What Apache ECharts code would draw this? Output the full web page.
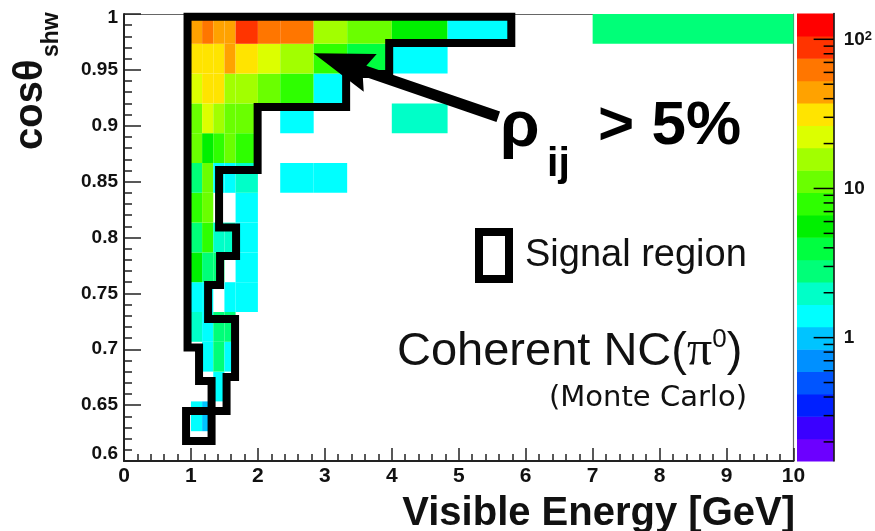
<!DOCTYPE html>
<html>
<head>
<meta charset="utf-8">
<script src="https://cdn.jsdelivr.net/npm/echarts@6/dist/echarts.min.js"></script>
<style>
  html, body { margin: 0; padding: 0; background: #fff; }
  #chart { width: 875px; height: 531px; }
</style>
</head>
<body>
<div id="chart"></div>
<script>
// ---- histogram binning --------------------------------------------------
// Visible energy bin edges in GeV (variable width)
const energyEdges = [6/6, 7/6, 8/6, 9/6, 10/6, 12/6, 14/6, 17/6, 20/6, 24/6, 29/6, 35/6, 42/6, 60/6];
// cos(theta_shw) bin edges
const cosEdges = [0.6, 0.62667, 0.65333, 0.68, 0.70667, 0.73333, 0.76, 0.78667,
                  0.81333, 0.84, 0.86667, 0.89333, 0.92, 0.94667, 0.97333, 1.0];

// ---- event counts, one row per cos bin (bottom to top), one value per energy bin
const row00 = [0,    0,    0,    0,    0,    0,    0,    0,    0,   0,   0,   0, 0];
const row01 = [1.4,  1.0,  0,    0,    0,    0,    0,    0,    0,   0,   0,   0, 0];
const row02 = [0,    0,    1.3,  0,    0,    0,    0,    0,    0,   0,   0,   0, 0];
const row03 = [0,    1.5,  2.9,  1.3,  0,    0,    0,    0,    0,   0,   0,   0, 0];
const row04 = [2.1,  1.4,  2.7,  2.9,  0,    0,    0,    0,    0,   0,   0,   0, 0];
const row05 = [1.5,  1.3,  0,    1.4,  1.5,  0,    0,    0,    0,   0,   0,   0, 0];
const row06 = [5.4,  2.8,  2.6,  0,    1.3,  0,    0,    0,    0,   0,   0,   0, 0];
const row07 = [2.9,  8.2,  2.0,  1.9,  1.4,  0,    0,    0,    0,   0,   0,   0, 0];
const row08 = [7.8,  11.5, 0,    0,    1.5,  0,    0,    0,    0,   0,   0,   0, 0];
const row09 = [2.7,  10.8, 1.4,  1.3,  2.1,  0,    1.4,  1.5,  0,   0,   0,   0, 0];
const row10 = [11.2, 5.5,  7.6,  12.1, 8.3,  0,    0,    0,    0,   0,   0,   0, 0];
const row11 = [10.6, 23.1, 15.4, 11.8, 10.9, 0,    1.3,  0,    0,   2.0, 0,   0, 0];
const row12 = [21.5, 30.4, 32.6, 16.2, 15.1, 11.4, 7.9,  1.4,  0,   0,   0,   0, 0];
const row13 = [31.2, 29.7, 33.5, 45.8, 30.6, 22.8, 16.3, 7.7,  4.0, 1.4, 0,   0, 0];
const row14 = [44.1, 63.5, 46.7, 42.9, 89.6, 61.2, 65.8, 15.7, 11.3, 5.6, 1.4, 0, 2.8];
const cosRows = [row00, row01, row02, row03, row04, row05, row06, row07,
                 row08, row09, row10, row11, row12, row13, row14];

// ---- colour (z) axis: logarithmic, 20 contour levels -----------------------
const zLogMin = -0.827;
const zLogMax = 2.173;
const zLevels = 20;
const palette = ['#6c00ff', '#3a00ff', '#0020ff', '#0055ff', '#0090ff',
                 '#00c4ff', '#00ffff', '#00ffc8', '#00ff78', '#00ff40',
                 '#00f000', '#2eff00', '#6aff00', '#a2ff00', '#dcff00',
                 '#ffe400', '#ffa200', '#ff7600', '#ff3400', '#ff0000'];
const zMajorTicks = [1, 10, 100];
const zMinorTicks = [0.2, 0.3, 0.4, 0.5, 0.6, 0.7, 0.8, 0.9,
                     2, 3, 4, 5, 6, 7, 8, 9, 20, 30, 40, 50, 60, 70, 80, 90];

// ---- signal region contour, (energy, cos) vertices -------------------------
const signalRegion = [
  [0.949, 0.9976], [5.785, 0.9976], [5.785, 0.9740], [3.961, 0.9740],
  [3.961, 0.9463], [3.318, 0.9463], [3.318, 0.9168], [1.996, 0.9168],
  [1.996, 0.8604], [1.420, 0.8604], [1.420, 0.8089], [1.674, 0.8089],
  [1.674, 0.7834], [1.435, 0.7834], [1.435, 0.7575], [1.256, 0.7575],
  [1.256, 0.7271], [1.659, 0.7271], [1.659, 0.6752], [1.532, 0.6752],
  [1.532, 0.6447], [0.927, 0.6447], [0.927, 0.6179], [1.308, 0.6179],
  [1.308, 0.6716], [1.121, 0.6716], [1.121, 0.7016], [0.949, 0.7016],
  [0.949, 0.9976]
];
// annotation arrow: tail (energy, cos) -> head (energy, cos)
const arrowTail = [5.590, 0.9081];
const arrowHead = [2.830, 0.9648];

// ---- build series data ----------------------------------------------------
const cells = [];
cosRows.forEach((row, j) => {
  row.forEach((count, i) => {
    if (count > 0) {
      cells.push([energyEdges[i], energyEdges[i + 1], cosEdges[j], cosEdges[j + 1],
                  count, Math.log10(count)]);
    }
  });
});

const zStep = (zLogMax - zLogMin) / zLevels;
const zPieces = palette.map((c, k) => ({
  gte: zLogMin + k * zStep,
  lt: k === zLevels - 1 ? zLogMax + 1 : zLogMin + (k + 1) * zStep,
  color: c
}));
const zBands = palette.map((c, k) => [zLogMin + k * zStep, zLogMin + (k + 1) * zStep, k]);
const zTicks = zMajorTicks.map(v => [Math.log10(v), 1])
  .concat(zMinorTicks.map(v => [Math.log10(v), 0]));

const FONT = '"Liberation Sans", Arial, Helvetica, sans-serif';
const tickStyle = () => ({ color: '#222', width: 1.5 });
const frameAxis = { show: true, onZero: false, lineStyle: { color: '#666', width: 1.2 } };

const chart = echarts.init(document.getElementById('chart'));

const option = {
  animation: false,
  backgroundColor: '#ffffff',
  grid: [
    { left: 124, right: 81.5, top: 14, bottom: 70 },
    { left: 797, width: 38, top: 13.5, bottom: 70 }
  ],
  xAxis: [
    { gridIndex: 0, type: 'value', min: 0, max: 10, interval: 1, z: 3,
      axisLine: { show: true, onZero: false, lineStyle: { color: '#222', width: 2 } },
      axisTick: { show: true, inside: true, length: 13, lineStyle: tickStyle() },
      minorTick: { show: true, splitNumber: 5, length: 7, lineStyle: tickStyle() },
      splitLine: { show: false }, minorSplitLine: { show: false },
      axisLabel: { show: true, fontFamily: FONT, fontWeight: 'bold', fontSize: 21, color: '#111', margin: 5 } },
    { gridIndex: 1, type: 'value', min: 0, max: 1, show: false },
    { // upper frame edge
      gridIndex: 0, type: 'value', min: 0, max: 10, position: 'top', z: 1,
      axisLine: frameAxis, axisTick: { show: false }, axisLabel: { show: false }, splitLine: { show: false } }
  ],
  yAxis: [
    { gridIndex: 0, type: 'value', min: 0.6, max: 1.0, interval: 0.05, z: 3,
      axisLine: { show: true, onZero: false, lineStyle: { color: '#222', width: 2 } },
      axisTick: { show: true, inside: true, length: 17, lineStyle: tickStyle() },
      minorTick: { show: true, splitNumber: 5, length: 8, lineStyle: tickStyle() },
      splitLine: { show: false }, minorSplitLine: { show: false },
      axisLabel: {
        show: true, fontFamily: FONT, fontWeight: 'bold', fontSize: 19, color: '#111', margin: 6,
        formatter: v => {
          const s = String(+v.toFixed(2));
          if (Math.abs(v - 0.6) < 1e-6) return '{lo|' + s + '}';
          if (Math.abs(v - 1.0) < 1e-6) return '{hi|' + s + '}';
          return s;
        },
        rich: {
          lo: { fontFamily: FONT, fontWeight: 'bold', fontSize: 19, color: '#111', padding: [0, 0, 14, 0] },
          hi: { fontFamily: FONT, fontWeight: 'bold', fontSize: 19, color: '#111', padding: [8, 0, 0, 0] }
        }
      } },
    { gridIndex: 1, type: 'value', min: zLogMin, max: zLogMax, position: 'right', z: 3,
      axisLine: { show: true, onZero: false, lineStyle: { color: '#000', width: 1.5 } },
      axisTick: { show: false },
      axisLabel: {
        customValues: zMajorTicks.map(Math.log10), margin: 10,
        formatter: v => {
          const n = Math.round(v);
          if (n === 0) return '{b|1}';
          if (n === 1) return '{b|10}';
          return '{b|10}{s|' + n + '}';
        },
        rich: {
          b: { fontFamily: FONT, fontWeight: 'bold', fontSize: 19, color: '#111' },
          s: { fontFamily: FONT, fontWeight: 'bold', fontSize: 13, color: '#111', verticalAlign: 'top', padding: [0, 0, 6, 0] }
        }
      },
      splitLine: { show: false } },
    { // right frame edge
      gridIndex: 0, type: 'value', min: 0.6, max: 1.0, position: 'right', z: 1,
      axisLine: frameAxis, axisTick: { show: false }, axisLabel: { show: false }, splitLine: { show: false } }
  ],
  visualMap: {
    type: 'piecewise', show: false, seriesIndex: 0, dimension: 5, pieces: zPieces
  },
  series: [
    { // 2D histogram cells
      type: 'custom', xAxisIndex: 0, yAxisIndex: 0, data: cells, z: 2,
      renderItem: (params, api) => {
        const p0 = api.coord([api.value(0), api.value(3)]);
        const p1 = api.coord([api.value(1), api.value(2)]);
        return { type: 'rect',
                 shape: { x: p0[0], y: p0[1], width: p1[0] - p0[0], height: p1[1] - p0[1] },
                 style: { fill: api.visual('color') } };
      }
    },
    { // colour scale bar
      type: 'custom', xAxisIndex: 1, yAxisIndex: 1, data: zBands, z: 1,
      renderItem: (params, api) => {
        const p0 = api.coord([0, api.value(1)]);
        const p1 = api.coord([1, api.value(0)]);
        return { type: 'rect',
                 shape: { x: p0[0], y: p0[1], width: p1[0] - p0[0], height: p1[1] - p0[1] + 0.5 },
                 style: { fill: palette[api.value(2)] } };
      }
    },
    { // colour scale ticks (log), drawn from the right edge into the bar
      type: 'custom', xAxisIndex: 1, yAxisIndex: 1, data: zTicks, z: 4, silent: true,
      renderItem: (params, api) => {
        const p = api.coord([1, api.value(0)]);
        const len = api.value(1) ? 20 : 10;
        return { type: 'line',
                 shape: { x1: p[0] - len, y1: p[1], x2: p[0], y2: p[1] },
                 style: { stroke: '#000', lineWidth: 1.5 } };
      }
    },
    { // signal region contour
      type: 'line', xAxisIndex: 0, yAxisIndex: 0, data: signalRegion,
      showSymbol: false, symbol: 'none', clip: false, silent: true, z: 5,
      lineStyle: { color: '#000', width: 8, join: 'miter', cap: 'square' }
    },
    { // correlation arrow
      type: 'custom', xAxisIndex: 0, yAxisIndex: 0, clip: false, z: 6, silent: true,
      data: [[arrowTail[0], arrowTail[1], arrowHead[0], arrowHead[1]]],
      renderItem: (params, api) => {
        const t = api.coord([api.value(0), api.value(1)]);
        const h = api.coord([api.value(2), api.value(3)]);
        const dx = h[0] - t[0], dy = h[1] - t[1];
        const L = Math.hypot(dx, dy);
        const ux = dx / L, uy = dy / L, nx = -uy, ny = ux;
        const headLen = 60, headHalf = 20, shaftHalf = 5.5, notch = 6;
        const bx = h[0] - ux * headLen, by = h[1] - uy * headLen;
        const pts = [
          h,
          [bx + nx * headHalf, by + ny * headHalf],
          [bx + ux * notch + nx * shaftHalf, by + uy * notch + ny * shaftHalf],
          [t[0] + nx * shaftHalf, t[1] + ny * shaftHalf],
          [t[0] - nx * shaftHalf, t[1] - ny * shaftHalf],
          [bx + ux * notch - nx * shaftHalf, by + uy * notch - ny * shaftHalf],
          [bx - nx * headHalf, by - ny * headHalf]
        ];
        return { type: 'polygon', shape: { points: pts }, style: { fill: '#000' } };
      }
    }
  ],
  graphic: [
    { type: 'text', x: 31, y: 150, rotation: Math.PI / 2, z: 10,
      style: { text: 'cosθ', font: 'bold 40px ' + FONT, fill: '#111',
               align: 'left', verticalAlign: 'middle', textAlign: 'left', textVerticalAlign: 'middle' } },
    { type: 'text', x: 52, y: 57, rotation: Math.PI / 2, z: 10,
      style: { text: 'shw', font: 'bold 23px ' + FONT, fill: '#111',
               align: 'left', verticalAlign: 'middle', textAlign: 'left', textVerticalAlign: 'middle' } },
    { type: 'text', x: 795, y: 514, z: 10,
      style: { text: 'Visible Energy [GeV]', font: 'bold 40px ' + FONT, fill: '#111',
               align: 'right', verticalAlign: 'middle', textAlign: 'right', textVerticalAlign: 'middle' } },
    { type: 'rect', z: 10, shape: { x: 479, y: 232, width: 30, height: 47 },
      style: { fill: 'none', stroke: '#000', lineWidth: 8 } },
    { type: 'text', x: 525, y: 256, z: 10,
      style: { text: 'Signal region', font: '38px ' + FONT, fill: '#111',
               align: 'left', verticalAlign: 'middle', textAlign: 'left', textVerticalAlign: 'middle' } },
    { type: 'text', x: 397, y: 352, z: 10,
      style: {
        text: '{t|Coherent NC(}{p|π}{s|0}{t|)}',
        align: 'left', verticalAlign: 'middle', textAlign: 'left', textVerticalAlign: 'middle',
        rich: {
          t: { fontFamily: FONT, fontSize: 47, fill: '#111', color: '#111' },
          p: { fontFamily: '"Liberation Serif", serif', fontSize: 50, fill: '#111', color: '#111' },
          s: { fontFamily: FONT, fontSize: 26, fill: '#111', color: '#111', verticalAlign: 'top' }
        }
      } },
    { type: 'text', x: 549, y: 398, z: 10,
      style: { text: '(Monte Carlo)', font: '29px "DejaVu Sans", sans-serif', fill: '#111',
               align: 'left', verticalAlign: 'middle', textAlign: 'left', textVerticalAlign: 'middle' } },
    { type: 'text', x: 500, y: 128, z: 10,
      style: { text: 'ρ', font: 'bold 64px ' + FONT, fill: '#000',
               align: 'left', verticalAlign: 'middle', textAlign: 'left', textVerticalAlign: 'middle' } },
    { type: 'text', x: 547, y: 165, z: 10,
      style: { text: 'ij', font: 'bold 41px ' + FONT, fill: '#000',
               align: 'left', verticalAlign: 'middle', textAlign: 'left', textVerticalAlign: 'middle' } },
    { type: 'text', x: 598, y: 126.5, z: 10,
      style: { text: '> 5%', font: 'bold 62px ' + FONT, fill: '#000',
               align: 'left', verticalAlign: 'middle', textAlign: 'left', textVerticalAlign: 'middle' } }
  ]
};

chart.setOption(option);
</script>
</body>
</html>
